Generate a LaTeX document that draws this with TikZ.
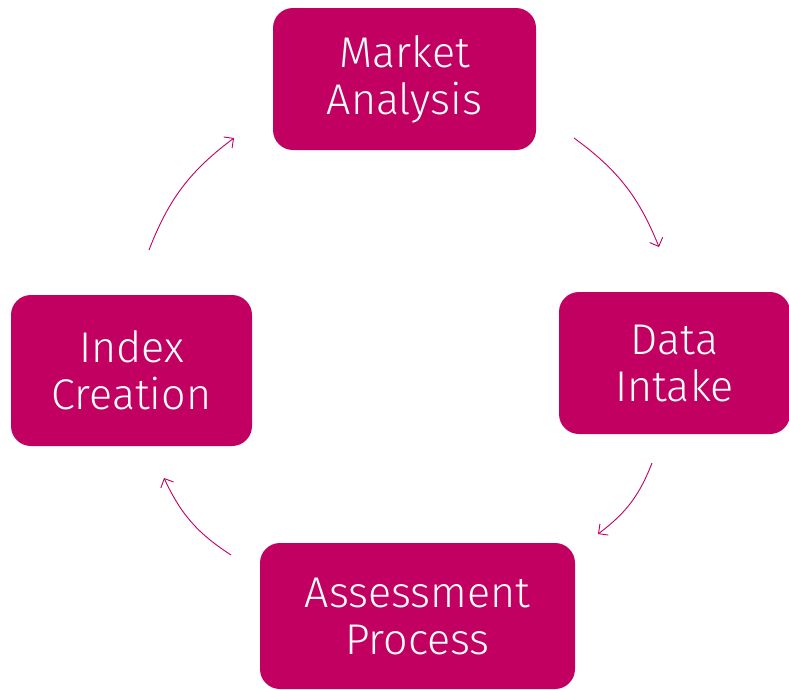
\documentclass[tikz,border=0pt]{standalone}
\usepackage{fontspec}
\setmainfont{Fira Sans Light}
\usetikzlibrary{arrows.meta}
\definecolor{mag}{RGB}{194,0,98}
\tikzset{
  stagebox/.style={fill=mag, rounded corners=20pt, inner sep=0pt, text=white,
    align=center, font=\fontsize{43}{47}\selectfont},
  flow/.style={draw=mag, line width=0.9pt, -{Straight Barb[length=7pt,width=14pt]}, bend left=16}
}
\begin{document}
\begin{tikzpicture}[x=1pt,y=-1pt]
\useasboundingbox (0,0) rectangle (789,689);
\node[stagebox, minimum width=263pt, minimum height=142pt] (ma) at (404.5,79) {Market\\Analysis};
\node[stagebox, minimum width=231pt, minimum height=142pt] (di) at (674.5,363) {Data\\Intake};
\node[stagebox, minimum width=315pt, minimum height=146pt] (ap) at (417.5,616) {Assessment\\Process};
\node[stagebox, minimum width=241pt, minimum height=151pt] (ic) at (131.5,370.5) {Index\\Creation};
\coordinate (a1s) at (574,138); \coordinate (a1e) at (659,247);
\coordinate (a2s) at (652,463); \coordinate (a2e) at (598,534);
\coordinate (a3s) at (231,555); \coordinate (a3e) at (164,478);
\coordinate (a4s) at (149,250); \coordinate (a4e) at (234,138);
\draw[flow] (a1s) to (a1e);
\draw[flow] (a2s) to (a2e);
\draw[flow] (a3s) to (a3e);
\draw[flow] (a4s) to (a4e);
\end{tikzpicture}
\end{document}
